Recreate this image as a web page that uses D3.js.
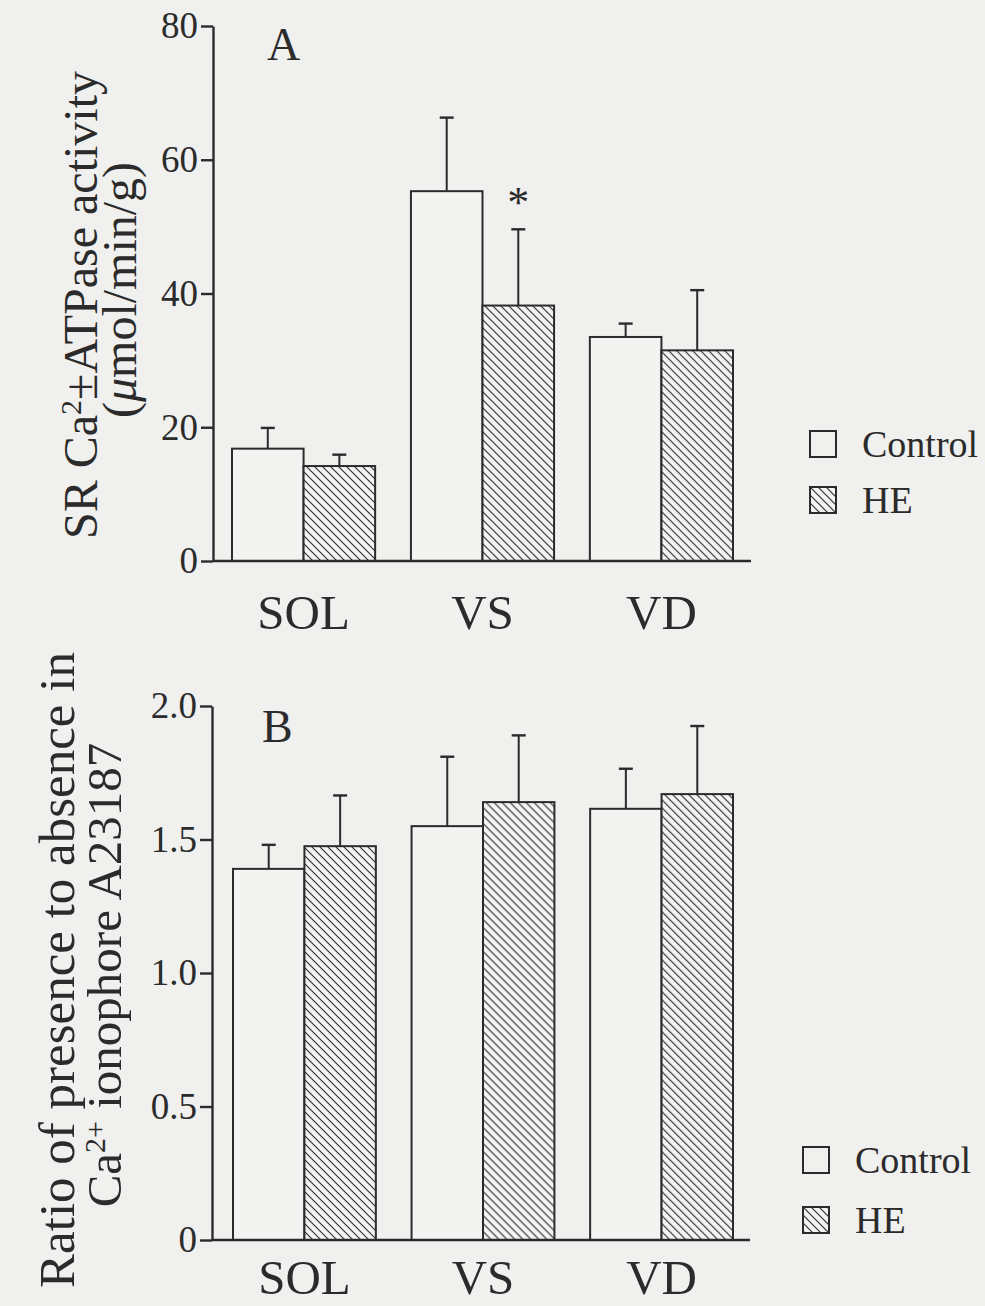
<!DOCTYPE html>
<html>
<head>
<meta charset="utf-8">
<script src="https://cdnjs.cloudflare.com/ajax/libs/d3/7.8.5/d3.min.js"></script>
<style>
  body { margin: 0; background: #f0f0ee; }
  svg { display: block; font-family: 'Liberation Serif', 'Times New Roman', serif; }
  .axis path, .axis line { stroke: #2b2b2b; stroke-width: 2.4; }
  .axis text { font-size: 37px; fill: #2b2b2b; font-family: 'Liberation Serif', serif; }
  .xlab .tick text { font-size: 49px; }
</style>
</head>
<body>
<script>
var groups = ['SOL', 'VS', 'VD'];
var series = ['Control', 'HE'];

// panel A: SR Ca2+-ATPase activity (umol/min/g), mean and SE
var atpaseControl = [16.8, 55.3, 33.5];
var atpaseControlSE = [3.1, 11.0, 2.0];
var atpaseHE = [14.2, 38.2, 31.5];
var atpaseHESE = [1.7, 11.4, 9.0];
var atpaseTicks = [0, 20, 40, 60, 80];
var atpaseSignif = [false, true, false];

// panel B: ratio with / without Ca2+ ionophore A23187
var ratioControl = [1.39, 1.55, 1.615];
var ratioControlSE = [0.09, 0.26, 0.15];
var ratioHE = [1.475, 1.64, 1.67];
var ratioHESE = [0.19, 0.25, 0.255];
var ratioTicks = [0, 0.5, 1.0, 1.5, 2.0];

var
  width = 985,
  height = 1306,
  ink = '#2b2b2b',
  svg = d3.select('body').append('svg')
    .attr('width', width)
    .attr('height', height);

svg.append('rect')
  .attr('width', width)
  .attr('height', height)
  .attr('fill', '#f0f0ee');

// diagonal hatch for HE bars
var pat = svg.append('defs').append('pattern')
  .attr('id', 'hatch')
  .attr('patternUnits', 'userSpaceOnUse')
  .attr('width', 8)
  .attr('height', 8);
pat.append('rect').attr('width', 8).attr('height', 8).attr('fill', '#f3f3f1');
pat.append('path')
  .attr('d', 'M-1,-1 L9,9 M-3,5 L3,11 M5,-3 L11,3')
  .attr('stroke', '#333')
  .attr('stroke-width', 1.2);

function rows(mC, sC, mH, sH) {
  return groups.map(function (g, i) {
    return {
      group: g,
      i: i,
      bars: [
        { key: 'Control', mean: mC[i], se: sC[i] },
        { key: 'HE', mean: mH[i], se: sH[i] }
      ]
    };
  });
}

function drawPanel(p) {
  var y = d3.scaleLinear().domain([0, p.max]).range([p.bottom, p.top]);
  var x0 = d3.scaleBand().domain(groups).range([p.barLeft, p.barRight]).paddingInner(0.2);
  var x1 = d3.scaleBand().domain(series).range([0, x0.bandwidth()]);

  var g = svg.append('g');

  // y axis
  g.append('g')
    .attr('class', 'axis')
    .attr('transform', 'translate(' + p.axisX + ',0)')
    .call(d3.axisLeft(y).tickValues(p.ticks).tickSize(12).tickSizeOuter(0).tickPadding(3)
      .tickFormat(p.fmt));

  // category labels
  var xa = g.append('g')
    .attr('class', 'axis xlab')
    .attr('transform', 'translate(0,' + y(0) + ')')
    .call(d3.axisBottom(x0).tickSize(0));
  xa.select('.domain').remove();
  xa.selectAll('text').attr('y', p.labelOffset).attr('dy', null);

  var grp = g.selectAll('.grp')
    .data(p.data)
    .enter()
    .append('g')
    .attr('class', 'grp')
    .attr('transform', function (d) { return 'translate(' + x0(d.group) + ',0)'; });

  var bar = grp.selectAll('.bar')
    .data(function (d) { return d.bars; })
    .enter()
    .append('g')
    .attr('class', 'bar');

  // error bars (upper half only)
  bar.append('line')
    .attr('x1', function (d) { return x1(d.key) + x1.bandwidth() / 2; })
    .attr('x2', function (d) { return x1(d.key) + x1.bandwidth() / 2; })
    .attr('y1', function (d) { return y(d.mean); })
    .attr('y2', function (d) { return y(d.mean + d.se); })
    .attr('stroke', ink)
    .attr('stroke-width', 2);
  bar.append('line')
    .attr('x1', function (d) { return x1(d.key) + x1.bandwidth() / 2 - 7; })
    .attr('x2', function (d) { return x1(d.key) + x1.bandwidth() / 2 + 7; })
    .attr('y1', function (d) { return y(d.mean + d.se); })
    .attr('y2', function (d) { return y(d.mean + d.se); })
    .attr('stroke', ink)
    .attr('stroke-width', 2.4);

  bar.append('rect')
    .attr('x', function (d) { return x1(d.key); })
    .attr('y', function (d) { return y(d.mean); })
    .attr('width', x1.bandwidth())
    .attr('height', function (d) { return y(0) - y(d.mean); })
    .attr('fill', function (d) { return d.key === 'HE' ? 'url(#hatch)' : '#f3f3f1'; })
    .attr('stroke', ink)
    .attr('stroke-width', 2);

  // baseline
  g.append('line')
    .attr('x1', p.axisX)
    .attr('x2', p.baseEnd)
    .attr('y1', y(0))
    .attr('y2', y(0))
    .attr('stroke', ink)
    .attr('stroke-width', 2.4);

  // significance marks
  if (p.signif) {
    grp.filter(function (d) { return p.signif[d.i]; })
      .append('text')
      .attr('x', x1('HE') + x1.bandwidth() / 2)
      .attr('y', function (d) { return y(d.bars[1].mean + d.bars[1].se) - 12; })
      .attr('text-anchor', 'middle')
      .attr('font-size', 44)
      .attr('fill', ink)
      .text('*');
  }

  // panel letter
  g.append('text')
    .attr('x', p.letterX)
    .attr('y', p.letterY)
    .attr('font-size', 46)
    .attr('fill', ink)
    .text(p.letter);

  // y titles
  p.titles.forEach(function (t) {
    var tx = g.append('text')
      .attr('transform', 'translate(' + t.x + ',' + t.y + ') rotate(-90)')
      .attr('text-anchor', 'middle')
      .attr('font-size', t.size)
      .attr('fill', ink);
    t.parts.forEach(function (part) {
      var ts = tx.append('tspan').text(part[0]);
      if (part[1] === 'sup') ts.attr('baseline-shift', 'super').attr('font-size', 30);
      if (part[1] === 'it') ts.attr('font-style', 'italic');
    });
  });

  // legend
  var leg = g.selectAll('.leg')
    .data(series)
    .enter()
    .append('g')
    .attr('class', 'leg')
    .attr('transform', function (d, i) { return 'translate(' + p.legX + ',' + (p.legY + i * p.legStep) + ')'; });
  leg.append('rect')
    .attr('width', 26)
    .attr('height', 26)
    .attr('fill', function (d) { return d === 'HE' ? 'url(#hatch)' : 'none'; })
    .attr('stroke', ink)
    .attr('stroke-width', 2);
  leg.append('text')
    .attr('x', 52)
    .attr('y', 26)
    .attr('font-size', 38)
    .attr('fill', ink)
    .text(function (d) { return d; });
}

drawPanel({
  data: rows(atpaseControl, atpaseControlSE, atpaseHE, atpaseHESE),
  max: 80, top: 26, bottom: 561,
  ticks: atpaseTicks, fmt: d3.format('d'),
  axisX: 213, barLeft: 232, barRight: 733, baseEnd: 751,
  labelOffset: 68,
  signif: atpaseSignif,
  letter: 'A', letterX: 267, letterY: 60,
  titles: [
    { x: 97, y: 305, size: 48, parts: [['SR Ca'], ['2', 'sup'], ['\u00b1ATPase activity']] },
    { x: 136, y: 290, size: 48, parts: [['('], ['\u03bc', 'it'], ['mol/min/g)']] }
  ],
  legX: 810, legY: 431, legStep: 56
});

drawPanel({
  data: rows(ratioControl, ratioControlSE, ratioHE, ratioHESE),
  max: 2, top: 706, bottom: 1240,
  ticks: ratioTicks, fmt: function (d) { return d === 0 ? '0' : d3.format('.1f')(d); },
  axisX: 212, barLeft: 233, barRight: 733, baseEnd: 750,
  labelOffset: 54,
  signif: null,
  letter: 'B', letterX: 262, letterY: 742,
  titles: [
    { x: 74, y: 970, size: 51, parts: [['Ratio of presence to absence in']] },
    { x: 121, y: 975, size: 49, parts: [['Ca'], ['2+', 'sup'], [' ionophore A23187']] }
  ],
  legX: 803, legY: 1147, legStep: 60
});
</script>
</body>
</html>
